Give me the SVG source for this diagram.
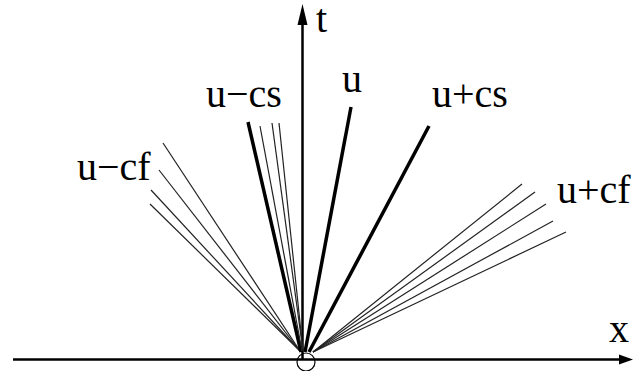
<svg xmlns="http://www.w3.org/2000/svg" width="633" height="371" viewBox="0 0 633 371">
<style>
.lbl{font-family:"Liberation Serif","Times New Roman",serif;font-size:40px;fill:#000}
.ax{stroke:#000;stroke-width:2.5;fill:none}
.thick{stroke:#000;stroke-width:3.5;stroke-linecap:butt}
.thin{stroke:#222;stroke-width:1.2}
</style>
<rect width="633" height="371" fill="#fff"/>
<g id="axes">
<line class="ax" x1="13" y1="359.5" x2="622" y2="359.5"/>
<polygon points="633,359.5 619,354.5 619,364.5" fill="#000"/>
<line class="ax" x1="302.5" y1="359.5" x2="302.5" y2="20"/>
<polygon points="302.5,4 297.5,25 307.5,25" fill="#000"/>
<circle cx="306" cy="362" r="9" fill="none" stroke="#000" stroke-width="1.2"/>
</g>
<g id="connectors">
<line class="thin" x1="163" y1="143" x2="300" y2="351"/>
<line class="thin" x1="159" y1="170" x2="300" y2="351"/>
<line class="thin" x1="151" y1="190" x2="300" y2="351"/>
<line class="thin" x1="150" y1="204" x2="300" y2="351"/>
<line class="thick" x1="248" y1="122" x2="301" y2="352"/>
<line class="thin" x1="260" y1="126" x2="302" y2="351"/>
<line class="thin" x1="272" y1="123" x2="303" y2="351"/>
<line class="thin" x1="279" y1="123" x2="303" y2="351"/>
<line class="thick" x1="351" y1="107" x2="305" y2="352"/>
<line class="thick" x1="429" y1="126" x2="309" y2="352"/>
<line class="thin" x1="522" y1="184" x2="313" y2="352"/>
<line class="thin" x1="535" y1="192" x2="313" y2="352"/>
<line class="thin" x1="546" y1="204" x2="313" y2="352"/>
<line class="thin" x1="553" y1="221" x2="313" y2="352"/>
<line class="thin" x1="566" y1="232" x2="313" y2="352"/>
</g>
<g id="label-t"><text class="lbl" x="316" y="32">t</text></g>
<g id="label-x"><text class="lbl" x="609" y="342">x</text></g>
<g id="label-u"><text class="lbl" x="342" y="92">u</text></g>
<g id="label-ucs-minus"><text class="lbl" x="206" y="107">u−cs</text></g>
<g id="label-ucs-plus"><text class="lbl" x="432" y="107">u+cs</text></g>
<g id="label-ucf-minus"><text class="lbl" x="77" y="180">u−cf</text></g>
<g id="label-ucf-plus"><text class="lbl" x="557" y="203">u+cf</text></g>
</svg>
